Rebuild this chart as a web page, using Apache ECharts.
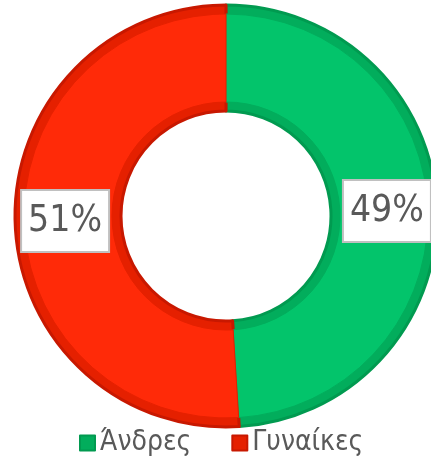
<!DOCTYPE html>
<html>
<head>
<meta charset="utf-8">
<script src="https://cdn.jsdelivr.net/npm/echarts@6/dist/echarts.min.js"></script>
<style>
    html, body { margin: 0; padding: 0; background: #fff; }
    #chart { width: 431px; height: 461px; }
</style>
</head>
<body>
<div id="chart"></div>
<script>
    // 数据
    var categories = ['Άνδρες', 'Γυναίκες'];
    var values = [49, 51];
    var colors = ['#03C46B', '#FF2A08'];
    var edgeColors = ['#019A50', '#C81800'];
    var rimColors = ['#02AD5C', '#E52000'];

    var myChart = echarts.init(document.getElementById('chart'));

    function buildData(fill, stroke, width) {
        return categories.map(function(name, i) {
            return {
                name: name,
                value: values[i],
                itemStyle: {
                    color: fill[i],
                    borderColor: stroke[i],
                    borderWidth: width
                }
            };
        });
    }

    var option = {
        animation: false,
        legend: {
            left: 74,
            top: 424,
            icon: 'rect',
            itemWidth: 15,
            itemHeight: 15,
            itemGap: 40,
            data: categories,
            textStyle: {
                fontFamily: 'DejaVu Sans Condensed, sans-serif',
                fontSize: 28,
                color: '#595959'
            }
        },
        series: [{
            // 外圈阴影
            type: 'pie',
            z: 1,
            silent: true,
            center: [226, 216],
            radius: [105, 211],
            startAngle: 90,
            label: { show: false },
            labelLine: { show: false },
            data: buildData(rimColors, edgeColors, 3)
        }, {
            type: 'pie',
            z: 2,
            center: [226, 216],
            radius: [114, 202],
            startAngle: 90,
            clockwise: true,
            avoidLabelOverlap: false,
            label: {
                show: true,
                position: 'inside',
                formatter: '{c}%',
                fontFamily: 'DejaVu Sans Condensed, sans-serif',
                fontSize: 37,
                lineHeight: 44,
                color: '#595959',
                backgroundColor: '#fff',
                borderColor: '#c0c0c0',
                borderWidth: 2,
                padding: [8, 6, 8, 6]
            },
            labelLine: { show: false },
            data: buildData(colors, rimColors, 1)
        }]
    };

    myChart.setOption(option);
</script>
</body>
</html>
